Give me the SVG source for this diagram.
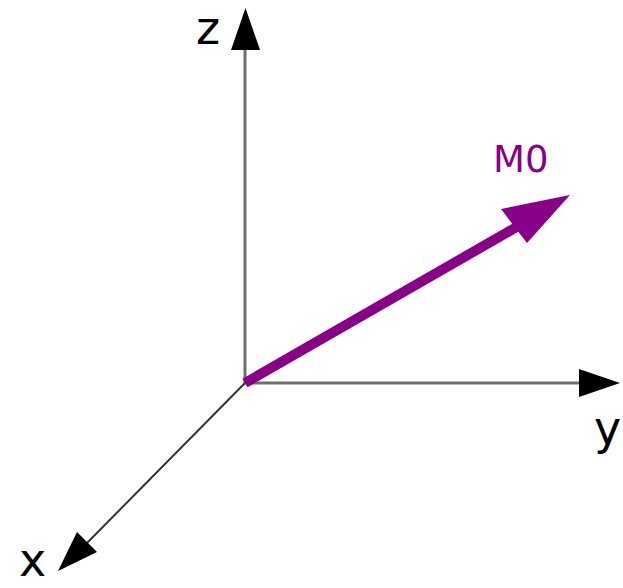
<svg xmlns="http://www.w3.org/2000/svg" width="623" height="588" viewBox="0 0 623 588">
<style>
.lbl{font-family:"DejaVu Sans",sans-serif;fill:#000;font-size:46px}
.axis{stroke:#6e6e6e;stroke-width:3;fill:none}
.head{fill:#000}
</style>
<rect width="623" height="588" fill="#fff"/>
<g id="connectors">
<line class="axis" x1="245" y1="383" x2="245" y2="48"/>
<polygon class="head" points="245.5,8 231,50 260,50"/>
<line class="axis" x1="245" y1="383" x2="582" y2="383"/>
<polygon class="head" points="620,383 579,369 579,397"/>
<line x1="245" y1="383" x2="85" y2="545" stroke="#333" stroke-width="2"/>
<polygon class="head" points="58,571 77,532 97,552"/>
<line x1="245" y1="383" x2="520" y2="225" stroke="#880088" stroke-width="10"/>
<polygon fill="#880088" points="570,195 501,209 527,243"/>
</g>
<g id="z"><text class="lbl" x="196" y="44">z</text></g>
<g id="y"><text class="lbl" x="594" y="444">y</text></g>
<g id="x"><text class="lbl" x="19" y="576" font-size="44">x</text></g>
<g id="M0"><text x="493" y="172" font-family="DejaVu Sans, sans-serif" font-size="37" fill="#880088">M0</text></g>
</svg>
